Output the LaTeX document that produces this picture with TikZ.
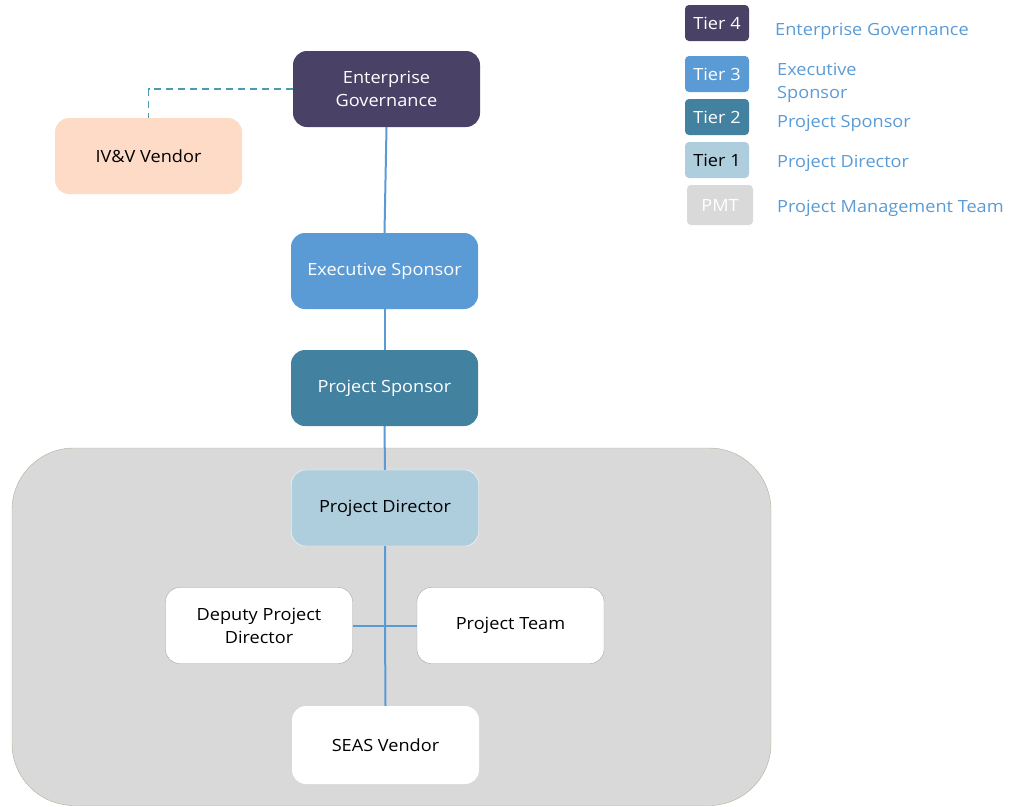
\documentclass[tikz,border=0pt]{standalone}
\usepackage{fontspec}
\setmainfont{Open Sans}[FakeStretch=1.08]
\usetikzlibrary{positioning}

\definecolor{tierfour}{HTML}{4A4266}
\definecolor{tierthree}{HTML}{5B9BD5}
\definecolor{tiertwo}{HTML}{42819F}
\definecolor{tierone}{HTML}{AECDDD}
\definecolor{pmtgray}{HTML}{D9D9D9}
\definecolor{peach}{HTML}{FDDBC7}
\definecolor{dashteal}{HTML}{4A9CB3}
\definecolor{pmtedge}{HTML}{B5AD96}
\definecolor{boxedge}{HTML}{A6A6A6}

\tikzset{
	box/.style={rounded corners=14pt,minimum width=187pt,minimum height=76pt,align=center,inner sep=0pt,font=\fontsize{16.8}{23}\selectfont},
	tag/.style={rounded corners=4pt,minimum width=64pt,minimum height=36pt,inner sep=0pt,font=\fontsize{16.8}{23}\selectfont},
	key/.style={anchor=west,align=left,text=tierthree,inner sep=0pt,font=\fontsize{16.8}{23}\selectfont},
	link/.style={draw=tierthree,line width=2pt},
}

\begin{document}
\begin{tikzpicture}[x=1pt,y=-1pt]
	\useasboundingbox (0,0) rectangle (1012,806);
	
	% project management team area
	\draw [fill=pmtgray,draw=pmtedge,rounded corners=62pt] (12,448) rectangle (771,805.5);
	
	\node (gov) [box,fill=tierfour,text=white] at (386.5,89) {Enterprise\\Governance};
	\node (ivv) [box,fill=peach] at (148.5,156) {IV\&V Vendor};
	\node (exec) [box,fill=tierthree,text=white] at (384.5,271) {Executive Sponsor};
	\node (sponsor) [box,fill=tiertwo,text=white] at (384.5,388) {Project Sponsor};
	\node (director) [box,fill=tierone,draw=white] at (385,508) {Project Director};
	\node (deputy) [box,fill=white,draw=boxedge] at (259,625.5) {Deputy Project\\Director};
	\node (team) [box,fill=white,draw=boxedge] at (510.5,625.5) {Project Team};
	\node (seas) [box,fill=white,minimum height=78pt] at (385.5,745) {SEAS Vendor};
	
	\coordinate (hub) at (385,625);
	
	\draw [dashteal,line width=1.2pt,dash pattern=on 7pt off 5pt] (gov.west) -| (ivv.north);
	\draw [link] (gov.south) -- (exec.north);
	\draw [link] (exec.south) -- (sponsor.north);
	\draw [link] (sponsor.south) -- (director.north);
	\draw [link] (director.south) -- (hub) -- (seas.north);
	\draw [link] (deputy.east) -- (team.west);
	
	% legend
	\foreach \y/\c/\t/\n in {23/tierfour/white/4,74/tierthree/white/3,117/tiertwo/white/2,160/tierone/black/1}{
		\node (tier\n) [tag,fill=\c,text=\t] at (717,\y) {Tier \n};
	}
	\node (pmt) [tag,fill=pmtgray,text=white,minimum width=66pt,minimum height=40pt] at (720,205) {PMT};
	
	\node (key4) [key] at (775,31) {Enterprise Governance};
	\node (key3) [key] at (777,83) {Executive\\Sponsor};
	\node (key2) [key] at (777,123) {Project Sponsor};
	\node (key1) [key] at (777,163) {Project Director};
	\node (keypmt) [key] at (777,208) {Project Management Team};
\end{tikzpicture}
\end{document}
